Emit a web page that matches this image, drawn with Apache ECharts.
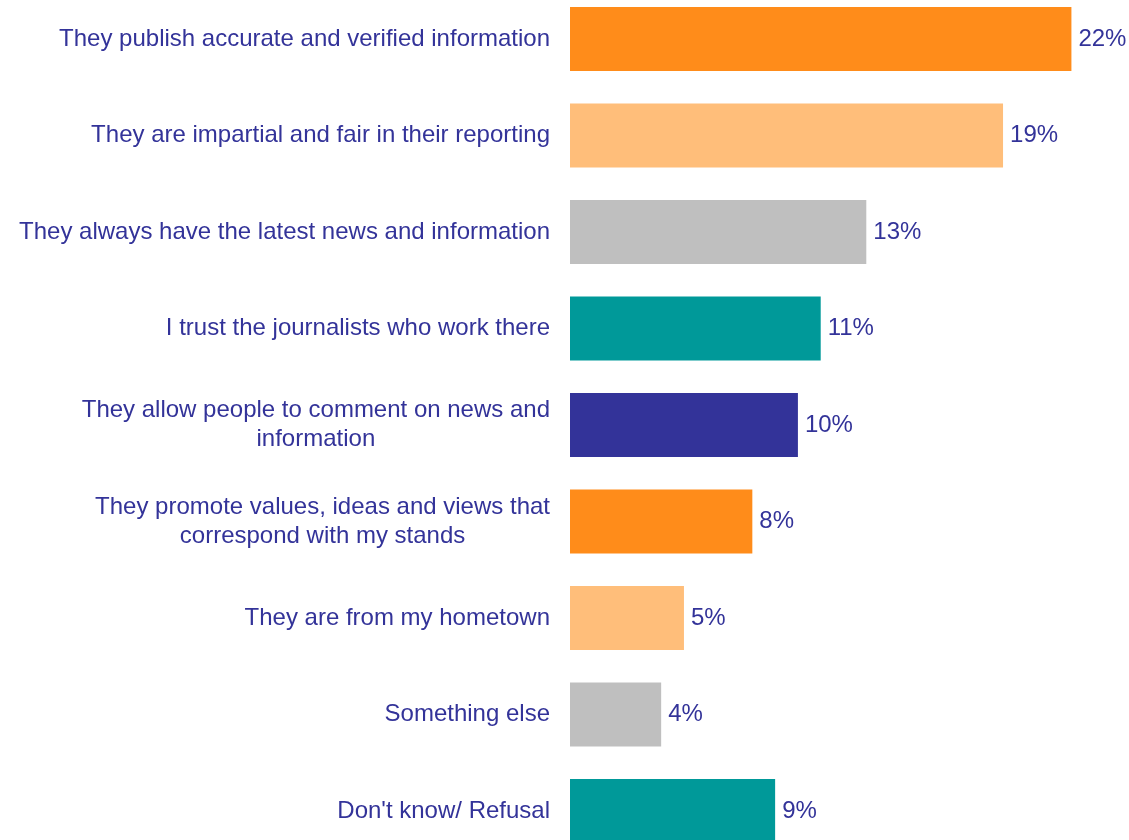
<!DOCTYPE html>
<html>
<head>
<meta charset="utf-8">
<script src="https://cdn.jsdelivr.net/npm/echarts@6/dist/echarts.min.js"></script>
<style>
  html, body { margin: 0; padding: 0; background: #ffffff; }
  #chart { width: 1129px; height: 840px; }
</style>
</head>
<body>
<div id="chart"></div>
<script>
// Reasons for trusting a news source (share of respondents, %)
const categories = [
  'They publish accurate and verified information',
  'They are impartial and fair in their reporting',
  'They always have the latest news and information',
  'I trust the journalists who work there',
  'They allow people to comment on news and\ninformation',
  'They promote values, ideas and views that\ncorrespond with my stands',
  'They are from my hometown',
  'Something else',
  "Don't know/ Refusal"
];
const values = [22, 19, 13, 11, 10, 8, 5, 4, 9];
const barColors = [
  '#FF8C1A', '#FFBE7A', '#BFBFBF', '#009999', '#333399',
  '#FF8C1A', '#FFBE7A', '#BFBFBF', '#009999'
];

const textColor = '#333399';
const fontFamily = '"Liberation Sans", Arial, sans-serif';

const chart = echarts.init(document.getElementById('chart'), null, { renderer: 'canvas' });

chart.setOption({
  backgroundColor: '#ffffff',
  animation: false,
  grid: {
    left: 570, right: 12, top: -9.25, bottom: -19.25,
    containLabel: false,
    outerBoundsMode: 'none'
  },
  xAxis: {
    type: 'value',
    min: 0,
    max: 24,
    show: false
  },
  yAxis: {
    type: 'category',
    data: categories,
    inverse: true,
    axisLine: { show: false },
    axisTick: { show: false },
    splitLine: { show: false },
    axisLabel: {
      margin: 20,
      formatter: function (v) { return '{c|' + v + '}'; },
      rich: {
        c: {
          align: 'center',
          color: textColor,
          fontSize: 24,
          lineHeight: 29,
          fontFamily: fontFamily
        }
      }
    }
  },
  series: [{
    type: 'bar',
    barWidth: 64,
    data: values.map(function (v, i) {
      return { value: v, itemStyle: { color: barColors[i] } };
    }),
    label: {
      show: true,
      position: 'right',
      distance: 7,
      formatter: '{c}%',
      color: textColor,
      fontSize: 24,
      fontFamily: fontFamily
    }
  }]
});
</script>
</body>
</html>
